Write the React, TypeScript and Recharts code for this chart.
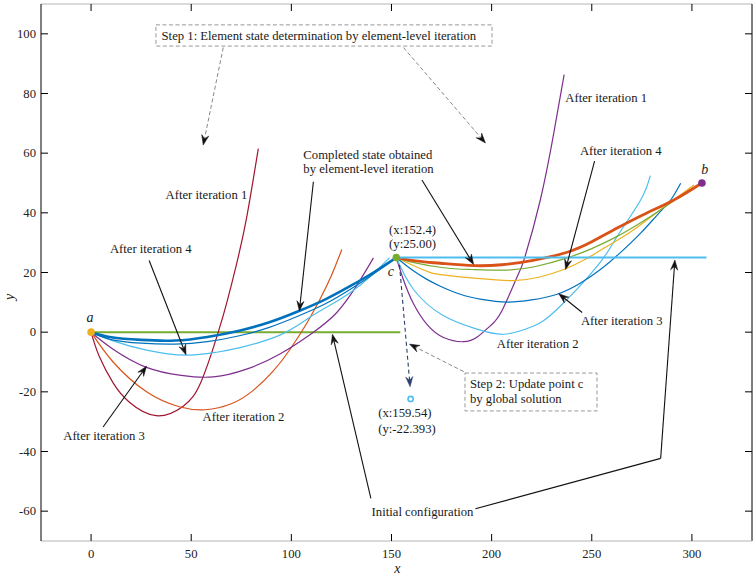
import React from 'react';
import { ComposedChart, Line, XAxis, YAxis, ReferenceLine, ReferenceDot, ReferenceArea } from 'recharts';

const W = 753, H = 576;
const PL = 41, PR = 752, PT = 4, PB = 541;
const FONT = '"Liberation Serif", "Times New Roman", serif';
const FS = 12.7;

const xTicks = [0, 50, 100, 150, 200, 250, 300];
const yTicks = [-60, -40, -20, 0, 20, 40, 60, 80, 100];

type P = { x: number; y: number };
const pts = (a: number[][]): P[] => a.map(([x, y]) => ({ x, y }));

// ---- left element (a -> c) ----
const leftInitial = pts([[0, 0], [154.4, 0]]);
const leftIter1 = pts([[0, 0], [4, -8], [11, -17], [19, -23.4], [32.5, -28], [46, -24.8], [55, -16.5], [63.5, 0], [68, 10.5], [72.7, 23], [77.7, 38.5], [83.5, 61.5]]);
const leftIter2 = pts([[0, 0], [11, -10], [27.7, -20], [44, -25], [57, -26], [70, -24], [81, -19.5], [91, -13], [99.3, -5.8], [107.7, 3], [114.3, 11], [120, 19], [125.2, 27.7]]);
const leftIter3 = pts([[0, 0], [11, -5.7], [27.7, -11.8], [45, -14.5], [61, -15], [78, -12.3], [94.3, -7.3], [110, -0.5], [122.7, 6.6], [133, 16], [141, 24.9]]);
const leftIter4 = pts([[0, 0], [11, -2.9], [27.7, -6], [47.7, -7.7], [62, -6.8], [74.3, -5.2], [94.3, -1], [107.7, 4.3], [118, 8.5], [129.3, 13.2], [140, 19], [149, 25]]);
const leftIter5 = pts([[0, 0], [10, -2.5], [25, -3.7], [42, -4], [58, -3.2], [74, -1.2], [89, 1.6], [103.5, 5.4], [117, 9.5], [129.3, 14.3], [141, 19.5], [152.4, 25]]);
const leftFinal = pts([[0, 0], [10, -1.7], [25, -2.6], [42, -2.8], [58, -1.6], [74, 0.5], [89, 3.3], [103.5, 7], [117, 11], [129.3, 15.4], [141, 20], [152.4, 25]]);

// ---- right element (c -> b) ----
const rightInitial = pts([[152.4, 25], [307.3, 25]]);
const rightIter1 = pts([[152.4, 25], [156, 17.5], [161, 9.5], [167.7, 2.6], [176, -1.8], [186, -3.2], [193, -1.5], [199.3, 2.1], [205, 7], [212.7, 18.5], [216.5, 25], [224.3, 44.3], [231, 66.6], [236.2, 86.3]]);
const rightIter2 = pts([[152.4, 25], [161, 14.3], [176, 5.5], [192.7, 1], [206, -0.7], [220, 1.8], [232.7, 7.7], [252.7, 22.1], [262.7, 32.1], [274.4, 44.3], [279.2, 52.5]]);
const rightIter3 = pts([[152.4, 25], [160, 21], [167.7, 17.7], [174.4, 15.4], [184.3, 12.7], [195, 11], [207.7, 10.1], [220, 10.8], [232.7, 12.7], [244, 16.3], [254.3, 21], [264, 26.5], [274.4, 33.2], [283, 39.5], [289.4, 44.3], [294.4, 49.9]]);
const rightIter4 = pts([[152.4, 25], [160, 22.6], [167.7, 20.4], [174.4, 19.3], [192.7, 18], [211, 17.3], [224, 18.5], [236, 21], [247, 24.5], [257.7, 28.8], [268, 33], [277.7, 37.7], [290.9, 44.3], [301, 49.3]]);
const rightIter5 = pts([[152.4, 25], [160, 23.5], [176, 21.6], [190, 21], [207.7, 20.8], [222, 22], [237.7, 24.9], [250, 28], [262.7, 32.1], [274, 36.5], [284.4, 41], [294, 45.5], [305, 50]]);
const rightFinal = pts([[152.4, 25], [163, 23.8], [174.4, 23.1], [191, 22.3], [205, 22.6], [220, 24], [237.7, 26.8], [250, 30.3], [262.7, 34.9], [277, 39.8], [291, 44.3], [305, 50]]);

// key points
const pointA = { x: 0, y: 0 };
const pointC = { x: 152.4, y: 25 };
const pointB = { x: 305, y: 50 };
const pointCUpdated = { x: 159.54, y: -22.393 };

const C = {
  blue: '#0072BD', orange: '#D95319', gold: '#EDB120', purple: '#7E2F8E',
  green: '#77AC30', lblue: '#4DBEEE', crimson: '#A2142F',
};

const series = [
  { d: leftInitial, c: C.green, w: 2 },
  { d: leftIter1, c: C.crimson, w: 1.2 },
  { d: leftIter2, c: C.orange, w: 1.2 },
  { d: leftIter3, c: C.purple, w: 1.2 },
  { d: leftIter4, c: C.lblue, w: 1.2 },
  { d: leftIter5, c: C.blue, w: 1.2 },
  { d: leftFinal, c: C.blue, w: 2.6 },
  { d: rightIter1, c: C.purple, w: 1.2 },
  { d: rightIter2, c: C.lblue, w: 1.2 },
  { d: rightIter3, c: C.blue, w: 1.2 },
  { d: rightIter4, c: C.gold, w: 1.2 },
  { d: rightIter5, c: C.green, w: 1.2 },
  { d: rightFinal, c: C.orange, w: 2.8 },
  { d: rightInitial, c: C.lblue, w: 2 },
];

type Lab = { x: number; y: number; t: string; a?: 'start' | 'middle' | 'end'; i?: boolean; s?: number };
const labels: Lab[] = [
  { x: 57.6, y: 46, t: 'After iteration 1' },
  { x: 29.8, y: 27.8, t: 'After iteration 4' },
  { x: 6.5, y: -34.8, t: 'After iteration 3' },
  { x: 76.1, y: -28.4, t: 'After iteration 2' },
  { x: 257.2, y: 78.6, t: 'After iteration 1' },
  { x: 264.5, y: 60.8, t: 'After iteration 4' },
  { x: 265, y: 3.9, t: 'After iteration 3' },
  { x: 223, y: -3.9, t: 'After iteration 2' },
  { x: 165.5, y: -60.2, t: 'Initial configuration' },
  { x: 106, y: 59.4, t: 'Completed state obtained', a: 'start' },
  { x: 106, y: 54.7, t: 'by element-level iteration', a: 'start' },
  { x: 160.5, y: 34.3, t: '(x:152.4)' },
  { x: 160.5, y: 29.5, t: '(y:25.00)' },
  { x: 143.4, y: -27.2, t: '(x:159.54)', a: 'start' },
  { x: 143.4, y: -32.6, t: '(y:-22.393)', a: 'start' },
  { x: 35.2, y: 99.3, t: 'Step 1: Element state determination by element-level iteration', a: 'start' },
  { x: 189.2, y: -17.4, t: 'Step 2: Update point c', a: 'start' },
  { x: 189.2, y: -22.4, t: 'by global solution', a: 'start' },
  { x: -0.5, y: 5, t: 'a', i: true, s: 14 },
  { x: 149.7, y: 20.3, t: 'c', i: true, s: 14 },
  { x: 306.4, y: 54.6, t: 'b', i: true, s: 14 },
  { x: 152.9, y: -79.3, t: 'x', i: true, s: 14 },
];

type Arr = { f: number[]; t: number[]; k: 'solid' | 'gray' | 'navy' | 'plain' };
const arrows: Arr[] = [
  { f: [66, 95.4], t: [56, 62.7], k: 'gray' },
  { f: [156, 95.4], t: [196.9, 63.4], k: 'gray' },
  { f: [111, 50.4], t: [104, 7.1], k: 'solid' },
  { f: [165.2, 51], t: [191, 22.7], k: 'solid' },
  { f: [29, 24], t: [47.4, -7.6], k: 'solid' },
  { f: [6, -31.8], t: [27.7, -11.4], k: 'solid' },
  { f: [251.4, 57.3], t: [236.9, 21], k: 'solid' },
  { f: [245.2, 6.6], t: [233.5, 12.9], k: 'solid' },
  { f: [139.7, -55.7], t: [120.5, -0.7], k: 'solid' },
  { f: [191.9, -59.2], t: [284.4, -42.3], k: 'plain' },
  { f: [284.4, -42.3], t: [291.5, 24.2], k: 'solid' },
  { f: [154, 22.5], t: [159.3, -18.3], k: 'navy' },
  { f: [186, -13.2], t: [159, -4], k: 'gray' },
];

const boxes = [
  { x1: 32.4, x2: 200.2, y1: 95.9, y2: 103 },
  { x1: 186.7, x2: 252.6, y1: -26.4, y2: -13.7 },
];

const arrowShape = (k: Arr['k']) => (p: any) => {
  const { x1, y1, x2, y2 } = p;
  const dx = x2 - x1, dy = y2 - y1;
  const len = Math.hypot(dx, dy) || 1;
  const ux = dx / len, uy = dy / len;
  const nx = -uy, ny = ux;
  const L = 10, Wd = 3.6, N = 6.5;
  const lineColor = k === 'gray' ? '#7a7a7a' : k === 'navy' ? '#2C3E6B' : '#111';
  const headColor = k === 'navy' ? '#2C3E6B' : '#111';
  const dash = k === 'gray' ? '4 2.5' : k === 'navy' ? '4 3' : undefined;
  const hasHead = k !== 'plain';
  const ex = hasHead ? x2 - ux * N : x2;
  const ey = hasHead ? y2 - uy * N : y2;
  const bx = x2 - ux * L, by = y2 - uy * L;
  const poly = `${x2},${y2} ${bx + nx * Wd},${by + ny * Wd} ${x2 - ux * N},${y2 - uy * N} ${bx - nx * Wd},${by - ny * Wd}`;
  return (
    <g>
      <line x1={x1} y1={y1} x2={ex} y2={ey} stroke={lineColor} strokeWidth={k === 'gray' ? 0.9 : 1.1} strokeDasharray={dash} />
      {hasHead && <polygon points={poly} fill={headColor} stroke={headColor} strokeWidth={0.5} />}
    </g>
  );
};

const textShape = (l: Lab) => (p: any) => (
  <text x={p.cx} y={p.cy} textAnchor={l.a || 'middle'} dominantBaseline="central"
    fontFamily={FONT} fontSize={l.s || FS} fontStyle={l.i ? 'italic' : 'normal'} fill="#1a1a1a">{l.t}</text>
);

const XTick = (props: any) => {
  const { x, payload } = props;
  return (
    <g>
      <line x1={x} x2={x} y1={PB} y2={PB - 7} stroke="#000" strokeWidth={1} />
      <line x1={x} x2={x} y1={PT} y2={PT + 7} stroke="#000" strokeWidth={1} />
      <text x={x} y={554} textAnchor="middle" dominantBaseline="central" fontFamily={FONT} fontSize={FS} fill="#222">{payload.value}</text>
    </g>
  );
};

const YTick = (props: any) => {
  const { y, payload } = props;
  return (
    <g>
      <line x1={PL} x2={PL + 7} y1={y} y2={y} stroke="#000" strokeWidth={1} />
      <line x1={PR - 7} x2={PR} y1={y} y2={y} stroke="#000" strokeWidth={1} />
      <text x={36} y={y} textAnchor="end" dominantBaseline="central" fontFamily={FONT} fontSize={FS} fill="#222">{payload.value}</text>
    </g>
  );
};

const dot = (fill: string, stroke: string, r: number, sw: number) => (p: any) => (
  <circle cx={p.cx} cy={p.cy} r={r} fill={fill} stroke={stroke} strokeWidth={sw} />
);

export default function App() {
  return (
    <div style={{ position: 'absolute', left: 0, top: 0, width: W, height: H, background: '#fff' }}>
      <ComposedChart width={W} height={H} margin={{ top: PT, right: W - PR, bottom: 0, left: 0 }}>
        <XAxis dataKey="x" type="number" domain={[-25, 330]} allowDataOverflow ticks={xTicks} interval={0}
          tick={XTick} tickLine={false} height={H - PB} stroke="#b4b4b4" />
        <YAxis type="number" domain={[-70, 110]} allowDataOverflow ticks={yTicks} interval={0}
          tick={YTick} tickLine={false} width={PL} stroke="#000" />
        <ReferenceLine y={110} stroke="#b4b4b4" ifOverflow="visible" />
        <ReferenceLine x={330} stroke="#000" ifOverflow="visible" />
        {boxes.map((b, i) => (
          <ReferenceArea key={'bx' + i} x1={b.x1} x2={b.x2} y1={b.y1} y2={b.y2} fill="none" fillOpacity={0}
            stroke="#8c8c8c" strokeDasharray="4 2.5" strokeWidth={0.9} ifOverflow="visible" />
        ))}
        {series.map((s, i) => (
          <Line key={'s' + i} data={s.d} dataKey="y" type="natural" stroke={s.c} strokeWidth={s.w}
            dot={false} activeDot={false} isAnimationActive={false} legendType="none" />
        ))}
        {arrows.map((a, i) => (
          <ReferenceLine key={'ar' + i} segment={[{ x: a.f[0], y: a.f[1] }, { x: a.t[0], y: a.t[1] }]}
            ifOverflow="visible" shape={arrowShape(a.k)} />
        ))}
        <ReferenceDot x={pointA.x} y={pointA.y} r={4} ifOverflow="visible" shape={dot(C.gold, C.gold, 3.8, 0)} />
        <ReferenceDot x={pointC.x} y={pointC.y} r={4} ifOverflow="visible" shape={dot(C.green, C.green, 3.8, 0)} />
        <ReferenceDot x={pointB.x} y={pointB.y} r={4} ifOverflow="visible" shape={dot(C.purple, C.purple, 3.8, 0)} />
        <ReferenceDot x={pointCUpdated.x} y={pointCUpdated.y} r={3} ifOverflow="visible" shape={dot('#fff', C.lblue, 2.6, 1.6)} />
        {labels.map((l, i) => (
          <ReferenceDot key={'lb' + i} x={l.x} y={l.y} r={1} ifOverflow="visible" shape={textShape(l)} />
        ))}
        <ReferenceDot x={-40.5} y={11.8} r={1} ifOverflow="visible" shape={(p: any) => (
          <text x={p.cx} y={p.cy} textAnchor="middle" dominantBaseline="central" fontFamily={FONT} fontSize={14}
            fontStyle="italic" fill="#1a1a1a" transform={`rotate(-90 ${p.cx} ${p.cy})`}>y</text>
        )} />
      </ComposedChart>
    </div>
  );
}
